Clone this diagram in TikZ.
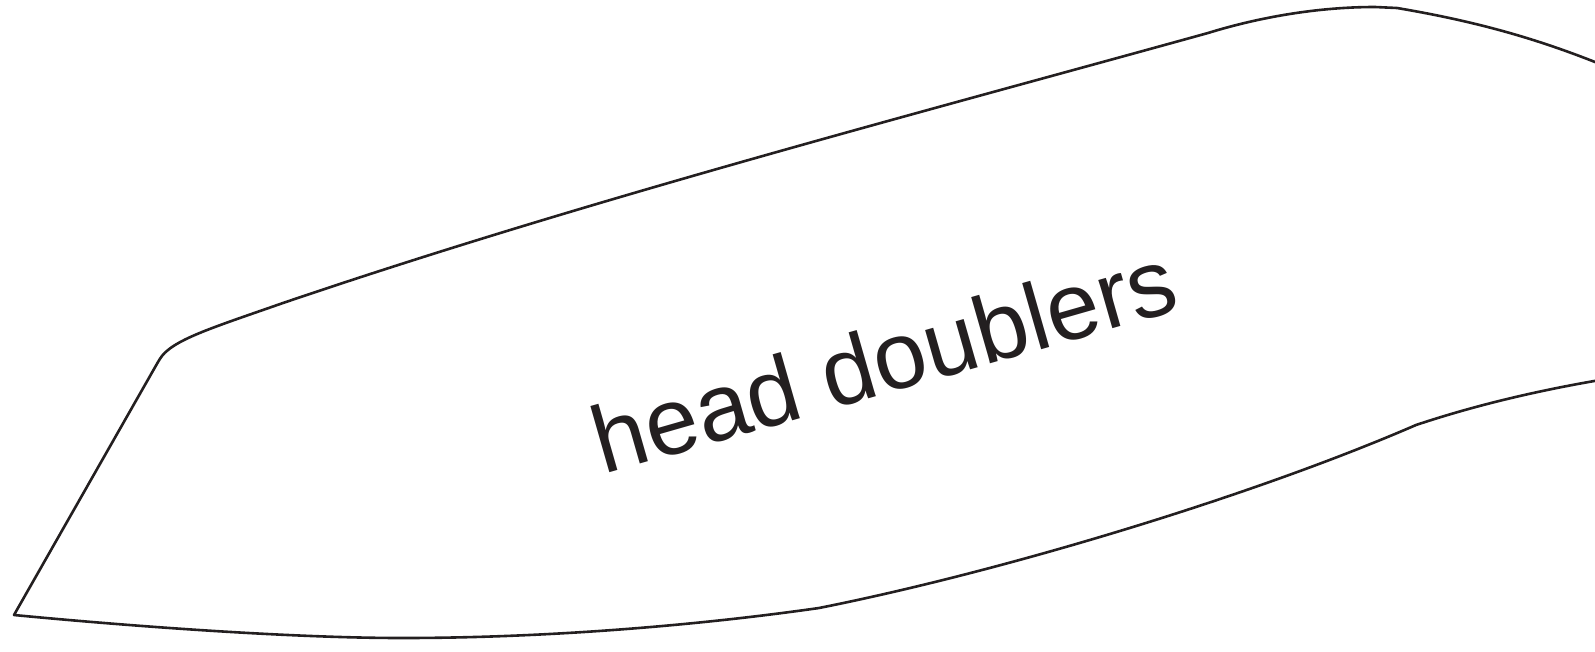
\documentclass[tikz,border=0pt]{standalone}
\usepackage{fontspec}
\setmainfont{Liberation Sans}
\usepackage{tikz}
\usetikzlibrary{positioning}
\definecolor{inkblack}{HTML}{231F20}

\begin{document}
\begin{tikzpicture}[
    x=1pt, y=-1pt,
    outline/.style={
        draw=inkblack,
        line width=2.6pt,
        line join=round
    },
    label/.style={
        text=inkblack,
        inner sep=0pt,
        font=\fontsize{95}{100}\selectfont
    }
]
    \useasboundingbox (0,0) rectangle (1595,651);
    \clip (0,0) rectangle (1595,651);

    % Outline of the part
    \coordinate (exittop)  at (1600,64);
    \coordinate (peak)     at (1397,8);
    \coordinate (shoulder) at (1208,33);
    \coordinate (bend)     at (283,303);
    \coordinate (corner)   at (158,362);
    \coordinate (tip)      at (14,615);
    \coordinate (low)      at (402,638);
    \coordinate (kinkA)    at (819,608);
    \coordinate (kinkB)    at (1416,425);
    \coordinate (exitbot)  at (1600,380);

    \draw [outline] (exittop)
        .. controls (1540,40) and (1480,22) .. (peak)
        -- (1375,7)
        .. controls (1310,7) and (1250,20) .. (shoulder)
        .. controls (908,116) and (583,201) .. (bend)
        .. controls (223,324) and (185,336) .. (168,350)
        .. controls (163,354) and (161,357) .. (corner)
        -- (tip)
        .. controls (150,628) and (300,638) .. (low)
        .. controls (550,638) and (700,625) .. (kinkA)
        .. controls (1000,572) and (1250,497) .. (kinkB)
        .. controls (1470,407) and (1530,392) .. (exitbot);

    % Label
    \node (name) [label, anchor=base, rotate=16] at (893,392) {head doublers};

\end{tikzpicture}
\end{document}
